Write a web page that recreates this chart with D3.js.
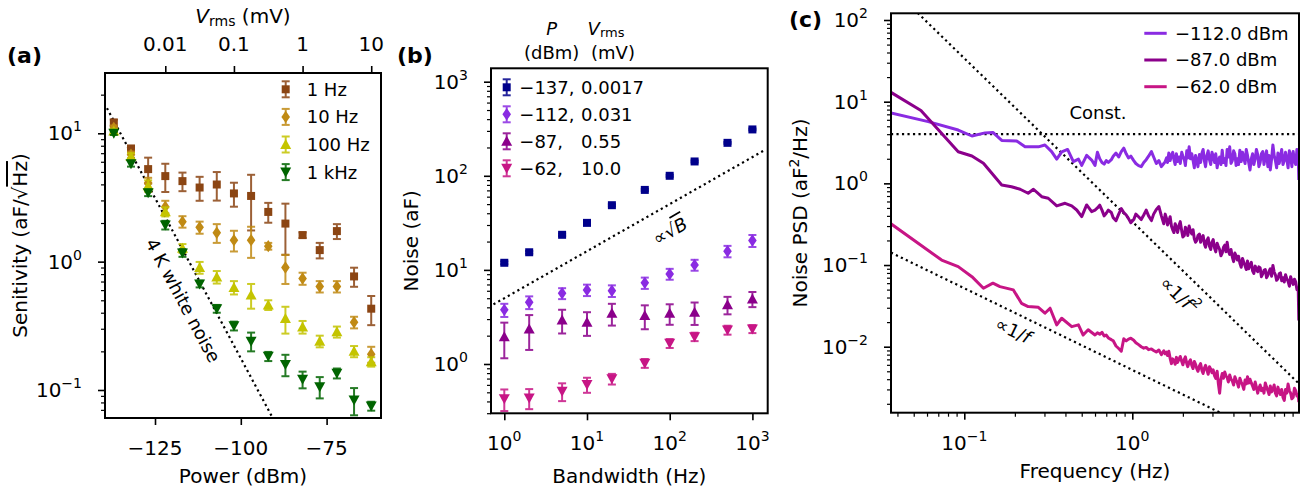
<!DOCTYPE html>
<html>
<head>
<meta charset="utf-8">
<script src="https://cdn.jsdelivr.net/npm/d3@7"></script>
<style>
  body { margin: 0; background: #fff; }
  svg text { font-family: "DejaVu Sans", sans-serif; fill: #000; }
</style>
</head>
<body>
<svg id="canvas" width="1310" height="493"></svg>
<script>
// ---- (a) sensitivity vs drive power ----
let powerA = [-137, -132, -127, -122, -117, -112, -107, -102, -97, -92, -87, -82, -77, -72, -67, -62]
let sens1Hz = [12.1, 7.6, 5.26, 4.64, 4.24, 3.78, 3.99, 3.40, 3.25, 2.44, 1.98, 1.61, 1.23, 1.73, 0.767, 0.43]
let err1Hz = [0.7, 0.4, 1.2, 1.15, 0.7, 0.8, 1.0, 0.72, 1.5, 0.43, 0.85, 0.08, 0.17, 0.23, 0.13, 0.11]
let sens10Hz = [11.0, 6.8, 4.1, 2.68, 2.05, 1.85, 1.68, 1.47, 1.47, 1.32, 0.90, 0.74, 0.64, 0.64, 0.337, 0.19]
let err10Hz = [0.5, 0.4, 0.4, 0.3, 0.21, 0.2, 0.28, 0.27, 0.4, 0.08, 0.23, 0.08, 0.065, 0.065, 0.035, 0.027]
let sens100Hz = [10.4, 6.6, 3.9, 2.45, 1.27, 0.90, 0.76, 0.63, 0.55, 0.46, 0.36, 0.31, 0.24, 0.284, 0.20, 0.166]
let err100Hz = [0.4, 0.4, 0.4, 0.2, 0.1, 0.095, 0.085, 0.075, 0.12, 0.04, 0.085, 0.035, 0.025, 0.028, 0.02, 0.014]
let sens1kHz = [10.0, 5.8, 3.44, 1.93, 1.17, 0.67, 0.43, 0.316, 0.24, 0.183, 0.158, 0.121, 0.106, 0.135, 0.0835, 0.075]
let err1kHz = [0.3, 0.3, 0.2, 0.15, 0.08, 0.04, 0.03, 0.025, 0.04, 0.015, 0.03, 0.018, 0.02, 0.012, 0.02, 0.006]
let whiteNoiseLine = [[-139, 15.7], [-85, 0.0314]]
let powerTicks = [-125, -100, -75]
let vrmsTicks = [0.01, 0.1, 1, 10]
let vrmsTickLabels = ['0.01', '0.1', '1', '10']

// ---- (b) noise vs bandwidth ----
let bandwidthB = [1, 2, 5, 10, 20, 50, 100, 200, 500, 1000]
let noiseM137 = [11.9, 15.4, 23.6, 31.6, 48.7, 70.8, 100, 142, 224, 311]
let errM137 = [0.4, 0.5, 0.7, 0.9, 1.3, 1.8, 2.5, 3.5, 5, 7]
let noiseM112 = [3.76, 4.53, 5.64, 6.12, 6.0, 7.28, 9.06, 11.3, 15.8, 20.5]
let errM112 = [0.6, 0.7, 0.75, 0.85, 0.85, 1.0, 1.2, 1.5, 2.2, 3.0]
let noiseM87 = [1.95, 2.36, 2.94, 2.77, 3.46, 3.27, 3.46, 3.55, 4.27, 4.92]
let errM87 = [0.8, 0.95, 0.83, 0.78, 0.9, 0.93, 0.85, 0.95, 0.9, 0.9]
let noiseM62 = [0.426, 0.436, 0.513, 0.604, 0.695, 1.02, 1.66, 1.95, 2.30, 2.36]
let errM62 = [0.11, 0.105, 0.11, 0.11, 0.09, 0.11, 0.18, 0.2, 0.25, 0.23]
let sqrtBLine = [[0.74, 4.3], [1427, 188.9]]
let legendB = [['\u2212137,', '0.0017'], ['\u2212112,', '0.031'], ['\u221287,', '0.55'], ['\u221262,', '10.0']]

// ---- (c) noise PSD ----
let psdLow112 = [[0.0366, 7.3], [0.061, 5.7], [0.092, 4.5], [0.111, 3.8], [0.133, 4.15], [0.148, 4.2], [0.167, 3.35], [0.205, 3.3], [0.23, 2.8], [0.276, 2.8], [0.302, 2.95], [0.331, 2.45], [0.355, 1.98], [0.38, 2.43], [0.412, 2.6], [0.446, 1.85], [0.478, 1.98], [0.50, 1.66], [0.535, 2.2], [0.573, 1.93], [0.60, 1.66]]
let psdLow87 = [[0.0366, 13.0], [0.0552, 7.8], [0.092, 2.44], [0.111, 2.16], [0.130, 1.76], [0.167, 0.955], [0.191, 0.91], [0.215, 0.847], [0.240, 0.757], [0.258, 0.847], [0.289, 0.687], [0.316, 0.657], [0.355, 0.529], [0.398, 0.57], [0.436, 0.529], [0.467, 0.472], [0.50, 0.391], [0.535, 0.544], [0.573, 0.451], [0.60, 0.47]]
let psdLow62 = [[0.0366, 0.32], [0.0733, 0.115], [0.092, 0.0955], [0.111, 0.072], [0.130, 0.052], [0.148, 0.060], [0.163, 0.0544], [0.196, 0.0496], [0.219, 0.034], [0.24, 0.031], [0.276, 0.0304], [0.302, 0.0257], [0.324, 0.0296], [0.355, 0.0185], [0.38, 0.0223], [0.436, 0.0176], [0.478, 0.0185], [0.51, 0.0139], [0.546, 0.0161], [0.60, 0.0139]]
let freqHi = [0.62, 0.64, 0.66, 0.68, 0.70, 0.72, 0.75, 0.77, 0.80, 0.83,
  0.86, 0.89, 0.92, 0.95, 0.98, 1.02, 1.05, 1.09, 1.13, 1.17,
  1.21, 1.25, 1.30, 1.34, 1.39, 1.44, 1.49, 1.54,
  1.57, 1.60, 1.62, 1.65, 1.68, 1.71, 1.74, 1.77, 1.80, 1.83,
  1.86, 1.90, 1.93, 1.97, 2.00, 2.04, 2.07, 2.11, 2.14, 2.18,
  2.22, 2.26, 2.30, 2.34, 2.38, 2.42, 2.46, 2.51, 2.55, 2.60,
  2.64, 2.69, 2.73, 2.78, 2.83, 2.88, 2.93, 2.98, 3.03, 3.09,
  3.14, 3.20, 3.25, 3.31, 3.37, 3.43, 3.49, 3.55, 3.61, 3.67,
  3.73, 3.80, 3.87, 3.94, 4.01, 4.08, 4.15, 4.22, 4.29, 4.37,
  4.45, 4.53, 4.61, 4.69, 4.77, 4.85, 4.93, 5.02, 5.11, 5.20,
  5.29, 5.39, 5.48, 5.58, 5.67, 5.77, 5.87, 5.98, 6.08, 6.19,
  6.30, 6.41, 6.52, 6.63, 6.75, 6.87, 6.99, 7.11, 7.23, 7.36,
  7.49, 7.62, 7.75, 7.89, 8.03, 8.17, 8.31, 8.46, 8.61, 8.76,
  8.91, 9.07, 9.23, 9.39, 9.55, 9.72, 9.80]
let psdHi112 = [2.4, 2.0, 1.8, 1.72, 1.9, 1.8, 1.95, 2.15, 2.35, 2.1,
  2.45, 2.7, 2.3, 2.05, 2.15, 1.9, 1.75, 1.65, 1.6, 1.8,
  1.95, 2.15, 2.45, 2.1, 1.75, 1.9, 1.6, 1.75,
  1.85, 2.05, 1.8, 2.35, 1.9, 2.2, 2.4, 1.95, 1.7, 2.3,
  1.85, 2.1, 1.75, 2.4, 2.15, 1.95, 1.65, 2.5, 2.05, 2.8,
  2.0, 2.3, 1.9, 1.55, 2.2, 1.9, 1.6, 2.25, 1.8, 2.35,
  2.6, 1.85, 1.6, 2.2, 2.5, 1.95, 1.7, 2.4, 2.15, 1.8,
  2.3, 1.55, 1.9, 2.1, 1.7, 2.55, 1.8, 2.0, 1.65, 2.6,
  2.1, 2.8, 1.75, 1.9, 2.5, 2.3, 1.65, 2.0, 1.7, 2.55,
  1.85, 2.4, 2.05, 1.75, 2.6, 2.2, 1.8, 1.46, 2.0, 2.3,
  1.7, 2.0, 2.6, 2.25, 1.6, 1.8, 2.3, 2.45, 1.7, 2.1,
  2.5, 1.6, 2.2, 1.46, 2.0, 2.95, 2.2, 1.9, 1.55, 2.35,
  1.75, 2.1, 2.6, 1.7, 1.9, 2.4, 2.0, 1.55, 2.5, 2.2,
  1.6, 2.45, 1.9, 1.7, 2.6, 2.2, 1.1]
let psdHi87 = [0.50, 0.54, 0.47, 0.40, 0.43, 0.47, 0.44, 0.38, 0.35, 0.42,
  0.49, 0.44, 0.41, 0.37, 0.33, 0.36, 0.42, 0.39, 0.36, 0.41,
  0.47, 0.40, 0.35, 0.42, 0.48, 0.52, 0.40, 0.32,
  0.42, 0.37, 0.31, 0.34, 0.39, 0.30, 0.27, 0.25, 0.32, 0.29,
  0.25, 0.31, 0.34, 0.26, 0.22, 0.23, 0.29, 0.27, 0.23, 0.30,
  0.26, 0.24, 0.27, 0.21, 0.19, 0.20, 0.23, 0.24, 0.19, 0.215,
  0.23, 0.18, 0.165, 0.20, 0.215, 0.17, 0.155, 0.19, 0.205, 0.16,
  0.145, 0.185, 0.17, 0.155, 0.13, 0.14, 0.165, 0.175, 0.145, 0.19,
  0.15, 0.135, 0.155, 0.125, 0.11, 0.14, 0.13, 0.115, 0.128, 0.105,
  0.094, 0.12, 0.108, 0.098, 0.088, 0.112, 0.09, 0.10, 0.108, 0.085,
  0.079, 0.097, 0.088, 0.083, 0.095, 0.092, 0.072, 0.078, 0.086, 0.088,
  0.07, 0.075, 0.084, 0.09, 0.073, 0.099, 0.082, 0.076, 0.065, 0.068,
  0.078, 0.08, 0.064, 0.07, 0.062, 0.076, 0.068, 0.063, 0.055, 0.072,
  0.064, 0.058, 0.067, 0.062, 0.05, 0.052, 0.021]
let psdHi62 = [0.0148, 0.0142, 0.0150, 0.0135, 0.0139, 0.0128, 0.0122, 0.0118, 0.0102, 0.0095,
  0.0088, 0.0125, 0.0118, 0.0124, 0.0127, 0.0120, 0.0112, 0.0106, 0.0100, 0.0096,
  0.0098, 0.0092, 0.0094, 0.0090, 0.0086, 0.0091, 0.0080, 0.0089,
  0.0082, 0.0086, 0.0078, 0.0088, 0.0072, 0.0062, 0.0071, 0.0068, 0.0061, 0.0074,
  0.0064, 0.0071, 0.0076, 0.0066, 0.0060, 0.0070, 0.0075, 0.0062, 0.0057, 0.0065,
  0.0069, 0.0059, 0.0054, 0.0066, 0.0061, 0.0054, 0.0050, 0.0058, 0.0062, 0.0051,
  0.0047, 0.0055, 0.0059, 0.0052, 0.0046, 0.0057, 0.0053, 0.0048, 0.0052, 0.0044,
  0.0041, 0.0050, 0.0036, 0.0027, 0.0040, 0.0047, 0.0041, 0.0049, 0.0044, 0.0042,
  0.0037, 0.0045, 0.0040, 0.0038, 0.0034, 0.0043, 0.0039, 0.0036, 0.0032, 0.0041,
  0.0037, 0.0034, 0.0030, 0.0039, 0.0035, 0.0043, 0.0036, 0.0040, 0.0036, 0.0033,
  0.0030, 0.0037, 0.0032, 0.0027, 0.0031, 0.0034, 0.0029, 0.0031, 0.0027, 0.0036,
  0.0032, 0.0029, 0.0026, 0.0033, 0.0028, 0.0030, 0.0034, 0.0027, 0.0025, 0.0032,
  0.0028, 0.0026, 0.0030, 0.0024, 0.0022, 0.0030, 0.0027, 0.0035, 0.0029, 0.0027,
  0.0023, 0.0024, 0.0031, 0.0029, 0.0025, 0.0026, 0.0021]
let constLine = [[0.0366, 4], [9.825, 4]]
let invF2Line = [[0.05, 136], [9.8, 0.00354]]
let invFLine = [[0.0366, 0.142], [9.8, 0.00053]]
let legendC = ['\u2212112.0 dBm', '\u221287.0 dBm', '\u221262.0 dBm']

let canvas = d3.select('#canvas')

let markerPath = {
  square: 'M-4,-4H4V4H-4Z',
  diamond: 'M0,-6.2L4.3,0L0,6.2L-4.3,0Z',
  up: 'M0,-5.5L5.5,4.5L-5.5,4.5Z',
  down: 'M0,5.5L5.5,-4.5L-5.5,-4.5Z'
}

let minorLogTicks = (lo, hi) => {
  let out = []
  for (let e = Math.floor(Math.log10(lo)); e <= Math.ceil(Math.log10(hi)); e++) {
    for (let m = 2; m <= 9; m++) {
      let t = m * Math.pow(10, e)
      if (t >= lo && t <= hi) out.push(t)
    }
  }
  return out
}

let pow10Text = (text, e) => {
  text.append('tspan').text('10')
  text.append('tspan').attr('dy', -9).attr('font-size', 14).text(e < 0 ? '\u2212' + (-e) : e)
}

let styleAxis = (sel, width) => {
  sel.select('.domain').remove()
  sel.selectAll('.tick line').attr('stroke', '#000').attr('stroke-width', width)
}

let leftLogAxis = (g, y, exps) => {
  let dom = y.domain()
  g.append('g').call(d3.axisLeft(y).tickValues(minorLogTicks(dom[0], dom[1])).tickSize(4).tickFormat('')).call(styleAxis, 1.2)
  g.append('g').call(d3.axisLeft(y).tickValues(exps.map(e => Math.pow(10, e))).tickSize(7).tickFormat('')).call(styleAxis, 1.6)
  exps.forEach(e => {
    let t = g.append('text').attr('x', -23).attr('y', y(Math.pow(10, e)) + 7)
      .attr('text-anchor', 'end').attr('font-size', 20)
    pow10Text(t, e)
  })
}

let bottomLogAxis = (g, x, h, exps, labelY, minors) => {
  let dom = x.domain()
  if (minors) {
    g.append('g').attr('transform', `translate(0,${h})`)
      .call(d3.axisBottom(x).tickValues(minorLogTicks(dom[0], dom[1])).tickSize(4).tickFormat('')).call(styleAxis, 1.2)
  }
  g.append('g').attr('transform', `translate(0,${h})`)
    .call(d3.axisBottom(x).tickValues(exps.map(e => Math.pow(10, e))).tickSize(7).tickFormat('')).call(styleAxis, 1.6)
  exps.forEach(e => {
    let t = g.append('text').attr('x', x(Math.pow(10, e))).attr('y', labelY)
      .attr('text-anchor', 'middle').attr('font-size', 20)
    pow10Text(t, e)
  })
}

let frame = (g, w, h) => {
  g.append('rect').attr('width', w).attr('height', h)
    .attr('fill', 'none').attr('stroke', '#000').attr('stroke-width', 2)
}

let clipFor = (g, id, w, h) => {
  canvas.append('clipPath').attr('id', id).append('rect').attr('width', w).attr('height', h)
  return g.append('g').attr('clip-path', `url(#${id})`)
}

let dotted = (g, x, y, pts) => {
  g.append('path').datum(pts)
    .attr('d', d3.line().x(d => x(d[0])).y(d => y(d[1])))
    .attr('fill', 'none').attr('stroke', '#000').attr('stroke-width', 2.2)
    .attr('stroke-dasharray', '2.2,3.3')
}

let screenAngle = (x, y, pts) => {
  let dx = x(pts[1][0]) - x(pts[0][0])
  let dy = y(pts[1][1]) - y(pts[0][1])
  return Math.atan2(dy, dx) * 180 / Math.PI
}

let drawErrorSeries = (g, x, y, xs, vals, errs, color, marker) => {
  let pts = xs.map((xv, i) => ({ x: xv, v: vals[i], e: errs[i] }))
  let eg = g.append('g').attr('stroke', color).attr('stroke-width', 2).attr('opacity', 0.85)
  eg.selectAll('line.bar').data(pts).enter().append('line').attr('class', 'bar')
    .attr('x1', d => x(d.x)).attr('x2', d => x(d.x))
    .attr('y1', d => y(d.v + d.e)).attr('y2', d => y(Math.max(d.v - d.e, 1e-6)))
  eg.selectAll('line.capTop').data(pts).enter().append('line').attr('class', 'capTop')
    .attr('x1', d => x(d.x) - 4).attr('x2', d => x(d.x) + 4)
    .attr('y1', d => y(d.v + d.e)).attr('y2', d => y(d.v + d.e))
  eg.selectAll('line.capBot').data(pts).enter().append('line').attr('class', 'capBot')
    .attr('x1', d => x(d.x) - 4).attr('x2', d => x(d.x) + 4)
    .attr('y1', d => y(Math.max(d.v - d.e, 1e-6))).attr('y2', d => y(Math.max(d.v - d.e, 1e-6)))
  g.append('g').selectAll('path').data(pts).enter().append('path')
    .attr('d', markerPath[marker])
    .attr('transform', d => `translate(${x(d.x)},${y(d.v)})`)
    .attr('fill', color)
}

let legendErrorMarker = (g, cx, cy, color, marker) => {
  let lg = g.append('g').attr('stroke', color).attr('stroke-width', 2).attr('opacity', 0.85)
  lg.append('line').attr('x1', cx).attr('x2', cx).attr('y1', cy - 8).attr('y2', cy + 8)
  lg.append('line').attr('x1', cx - 4).attr('x2', cx + 4).attr('y1', cy - 8).attr('y2', cy - 8)
  lg.append('line').attr('x1', cx - 4).attr('x2', cx + 4).attr('y1', cy + 8).attr('y2', cy + 8)
  g.append('path').attr('d', markerPath[marker]).attr('transform', `translate(${cx},${cy})`).attr('fill', color)
}

let panelLabel = (x, y, s) => {
  canvas.append('text').attr('x', x).attr('y', y).attr('font-size', 22).attr('font-weight', 'bold').text(s)
}

// ================= panel (a) =================
let wa = 276, ha = 345
let ga = canvas.append('g').attr('transform', 'translate(105,73)')
let xa = d3.scaleLinear().domain([-139.57, -59.15]).range([0, wa])
let ya = d3.scaleLog().domain([0.0605, 29.5]).range([ha, 0])
let xaTop = d3.scaleLog().domain([0.001324, 13.88]).range([0, wa])

leftLogAxis(ga, ya, [-1, 0, 1])
ga.append('g').attr('transform', `translate(0,${ha})`)
  .call(d3.axisBottom(xa).tickValues(powerTicks).tickSize(7).tickFormat('')).call(styleAxis, 1.6)
powerTicks.forEach(p => {
  ga.append('text').attr('x', xa(p)).attr('y', 382).attr('text-anchor', 'middle').attr('font-size', 20)
    .text('\u2212' + Math.abs(p))
})
ga.append('g').call(d3.axisTop(xaTop).tickValues(vrmsTicks).tickSize(7).tickFormat('')).call(styleAxis, 1.6)
vrmsTicks.forEach((v, i) => {
  ga.append('text').attr('x', xaTop(v)).attr('y', -22).attr('text-anchor', 'middle').attr('font-size', 20)
    .text(vrmsTickLabels[i])
})
let topLab = ga.append('text').attr('x', wa / 2).attr('y', -50).attr('text-anchor', 'middle').attr('font-size', 20)
topLab.append('tspan').attr('font-style', 'italic').text('V')
topLab.append('tspan').attr('font-size', 14).attr('dy', 3).text('rms')
topLab.append('tspan').attr('dy', -3).text(' (mV)')
ga.append('text').attr('x', wa / 2).attr('y', 410).attr('text-anchor', 'middle').attr('font-size', 20).text('Power (dBm)')
let ylabA = canvas.append('text').attr('transform', 'translate(27,245.5) rotate(-90)')
  .attr('text-anchor', 'middle').attr('font-size', 20)
ylabA.append('tspan').text('Senitivity (aF/\u221A')
ylabA.append('tspan').style('text-decoration', 'overline').text('Hz')
ylabA.append('tspan').text(')')

let pa = clipFor(ga, 'clipA', wa, ha)
dotted(pa, xa, ya, whiteNoiseLine)
let seriesA = [
  { vals: sens1Hz, errs: err1Hz, color: '#8b4513', marker: 'square', label: '1 Hz' },
  { vals: sens10Hz, errs: err10Hz, color: '#c08a14', marker: 'diamond', label: '10 Hz' },
  { vals: sens100Hz, errs: err100Hz, color: '#c4c400', marker: 'up', label: '100 Hz' },
  { vals: sens1kHz, errs: err1kHz, color: '#006400', marker: 'down', label: '1 kHz' }
]
seriesA.forEach(s => drawErrorSeries(ga, xa, ya, powerA, s.vals, s.errs, s.color, s.marker))
let wnPos = [-116.8, 0.5]
ga.append('text')
  .attr('transform', `translate(${xa(wnPos[0])},${ya(wnPos[1])}) rotate(${screenAngle(xa, ya, whiteNoiseLine)})`)
  .attr('text-anchor', 'middle').attr('dominant-baseline', 'central').attr('font-size', 18).text('4 K white noise')
seriesA.forEach((s, i) => {
  let cy = 16.3 + i * 27.6
  legendErrorMarker(ga, 180.7, cy, s.color, s.marker)
  ga.append('text').attr('x', 201.7).attr('y', cy + 6.5).attr('font-size', 18).text(s.label)
})
frame(ga, wa, ha)
panelLabel(7, 63, '(a)')

// ================= panel (b) =================
let wb = 276.7, hb = 345
let gb = canvas.append('g').attr('transform', 'translate(491,68.3)')
let xb = d3.scaleLog().domain([0.6906, 1531]).range([0, wb])
let yb = d3.scaleLog().domain([0.2992, 1388]).range([hb, 0])
leftLogAxis(gb, yb, [0, 1, 2, 3])
bottomLogAxis(gb, xb, hb, [0, 1, 2, 3], 381.7, false)
gb.append('text').attr('x', wb / 2).attr('y', 414.7).attr('text-anchor', 'middle').attr('font-size', 20).text('Bandwidth (Hz)')
canvas.append('text').attr('transform', 'translate(418,240.8) rotate(-90)')
  .attr('text-anchor', 'middle').attr('font-size', 20).text('Noise (aF)')

let pb = clipFor(gb, 'clipB', wb, hb)
dotted(pb, xb, yb, sqrtBLine)
let seriesB = [
  { vals: noiseM137, errs: errM137, color: '#00008b', marker: 'square' },
  { vals: noiseM112, errs: errM112, color: '#8a2be2', marker: 'diamond' },
  { vals: noiseM87, errs: errM87, color: '#8b008b', marker: 'up' },
  { vals: noiseM62, errs: errM62, color: '#c71585', marker: 'down' }
]
seriesB.forEach(s => drawErrorSeries(gb, xb, yb, bandwidthB, s.vals, s.errs, s.color, s.marker))
let sqPos = [100, 26.2]
let sqLab = gb.append('text')
  .attr('transform', `translate(${xb(sqPos[0])},${yb(sqPos[1])}) rotate(${screenAngle(xb, yb, sqrtBLine)})`)
  .attr('text-anchor', 'middle').attr('dominant-baseline', 'central').attr('font-size', 18)
sqLab.append('tspan').text('\u221D\u221A')
sqLab.append('tspan').attr('font-style', 'italic').style('text-decoration', 'overline').text('B')
seriesB.forEach((s, i) => {
  let cy = 19 + i * 27
  legendErrorMarker(gb, 15.7, cy, s.color, s.marker)
  gb.append('text').attr('x', 28.3).attr('y', cy + 6.5).attr('font-size', 18).text(legendB[i][0])
  gb.append('text').attr('x', 90).attr('y', cy + 6.5).attr('font-size', 18).text(legendB[i][1])
})
frame(gb, wb, hb)
canvas.append('text').attr('x', 551.7).attr('y', 35).attr('text-anchor', 'middle').attr('font-size', 18)
  .attr('font-style', 'italic').text('P')
canvas.append('text').attr('x', 551.7).attr('y', 59).attr('text-anchor', 'middle').attr('font-size', 18).text('(dBm)')
let vHead = canvas.append('text').attr('x', 606).attr('y', 35).attr('text-anchor', 'middle').attr('font-size', 18)
vHead.append('tspan').attr('font-style', 'italic').text('V')
vHead.append('tspan').attr('font-size', 13).attr('dy', 2).text('rms')
canvas.append('text').attr('x', 613).attr('y', 59).attr('text-anchor', 'middle').attr('font-size', 18).text('(mV)')
panelLabel(397, 63, '(b)')

// ================= panel (c) =================
let wc = 408, hc = 399.4
let gc = canvas.append('g').attr('transform', 'translate(891,13.3)')
let xc = d3.scaleLog().domain([0.03662, 9.825]).range([0, wc])
let yc = d3.scaleLog().domain([0.001556, 120.8]).range([hc, 0])
leftLogAxis(gc, yc, [-2, -1, 0, 1, 2])
bottomLogAxis(gc, xc, hc, [-1, 0], 436.7, true)
gc.append('text').attr('x', wc / 2).attr('y', 464.7).attr('text-anchor', 'middle').attr('font-size', 20).text('Frequency (Hz)')
let ylabC = canvas.append('text').attr('transform', 'translate(807,213) rotate(-90)')
  .attr('text-anchor', 'middle').attr('font-size', 20)
ylabC.append('tspan').text('Noise PSD (aF')
ylabC.append('tspan').attr('font-size', 14).attr('dy', -8).text('2')
ylabC.append('tspan').attr('dy', 8).text('/Hz)')

let pc = clipFor(gc, 'clipC', wc, hc)
dotted(pc, xc, yc, constLine)
dotted(pc, xc, yc, invF2Line)
dotted(pc, xc, yc, invFLine)
let seriesC = [
  { low: psdLow112, hi: psdHi112, color: '#8a2be2' },
  { low: psdLow87, hi: psdHi87, color: '#8b008b' },
  { low: psdLow62, hi: psdHi62, color: '#c71585' }
]
let psdLine = d3.line().defined(d => d[1] > 0).x(d => xc(d[0])).y(d => yc(d[1]))
seriesC.forEach(s => {
  let pts = s.low.concat(freqHi.map((f, i) => [f, s.hi[i]]))
  pc.append('path').datum(pts).attr('d', psdLine)
    .attr('fill', 'none').attr('stroke', s.color).attr('stroke-width', 3).attr('stroke-linejoin', 'round')
})
gc.append('text').attr('x', xc(0.625)).attr('y', yc(7.28)).attr('text-anchor', 'middle')
  .attr('dominant-baseline', 'central').attr('font-size', 18).text('Const.')
let f2Pos = [1.92, 0.043]
let f2Lab = gc.append('text')
  .attr('transform', `translate(${xc(f2Pos[0])},${yc(f2Pos[1])}) rotate(${screenAngle(xc, yc, invF2Line)})`)
  .attr('text-anchor', 'middle').attr('dominant-baseline', 'central').attr('font-size', 18)
f2Lab.append('tspan').text('\u221D1/')
f2Lab.append('tspan').attr('font-style', 'italic').text('f')
f2Lab.append('tspan').attr('font-size', 13).attr('dy', -7).text('2')
let f1Pos = [0.196, 0.0161]
let f1Lab = gc.append('text')
  .attr('transform', `translate(${xc(f1Pos[0])},${yc(f1Pos[1])}) rotate(${screenAngle(xc, yc, invFLine)})`)
  .attr('text-anchor', 'middle').attr('dominant-baseline', 'central').attr('font-size', 18)
f1Lab.append('tspan').text('\u221D1/')
f1Lab.append('tspan').attr('font-style', 'italic').text('f')
seriesC.forEach((s, i) => {
  let cy = 20 + i * 26.7
  gc.append('line').attr('x1', 253.3).attr('x2', 275.7).attr('y1', cy).attr('y2', cy)
    .attr('stroke', s.color).attr('stroke-width', 3)
  gc.append('text').attr('x', 284).attr('y', cy + 6.5).attr('font-size', 18).text(legendC[i])
})
frame(gc, wc, hc)
panelLabel(789, 27, '(c)')
</script>
</body>
</html>
